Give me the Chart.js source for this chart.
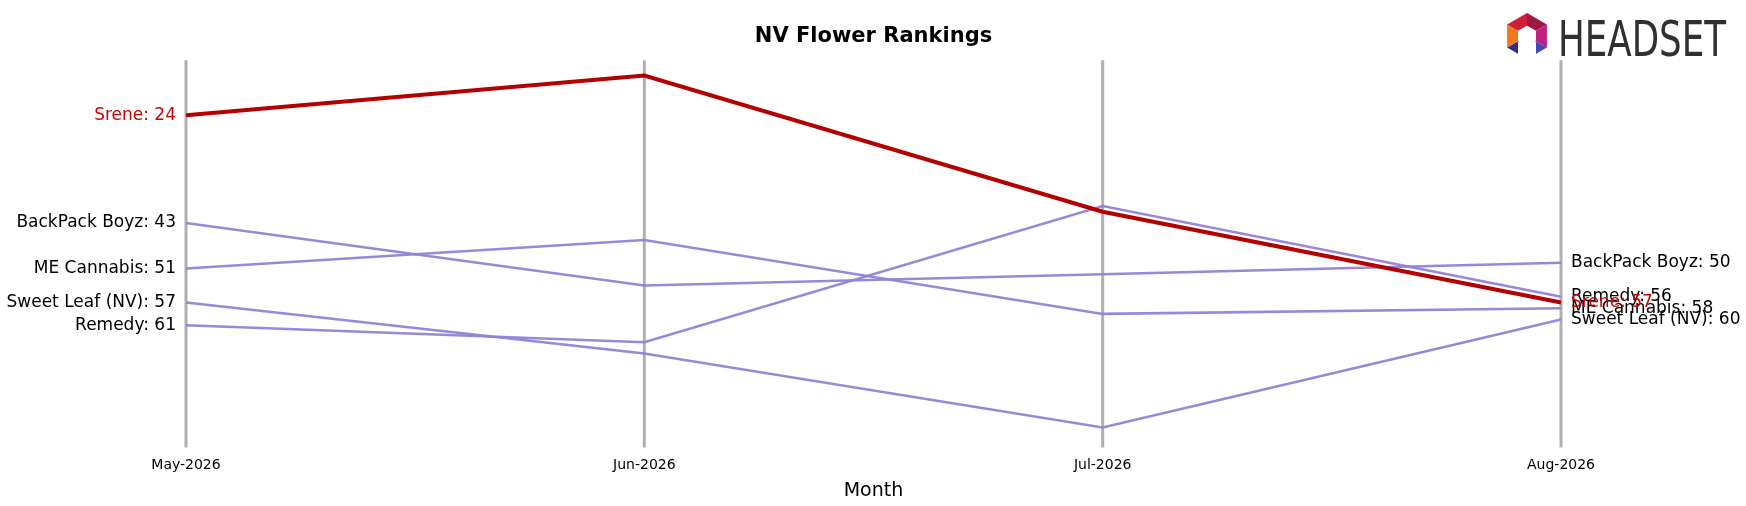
<!DOCTYPE html>
<html><head><meta charset="utf-8">
<script src="https://cdn.jsdelivr.net/npm/chart.js@4/dist/chart.umd.min.js"></script>
<style>html,body{margin:0;padding:0;background:#fff}#w{width:1746px;height:506px}</style>
</head><body><div id="w"><canvas id="c"></canvas></div>
<script>
const months = ["May-2026","Jun-2026","Jul-2026","Aug-2026"];
const srene = [24,17,41,57];
const backpack = [43,54,52,50];
const meCannabis = [51,46,59,58];
const sweetLeaf = [57,66,79,60];
const remedy = [61,64,40,56];
const names = ["Srene","BackPack Boyz","ME Cannabis","Sweet Leaf (NV)","Remedy"];
const series = [srene,backpack,meCannabis,sweetLeaf,remedy];

const PURPLE = "rgba(147,130,216,0.95)", RED = "#b30000";
const datasets = series.map((d,i)=>({
  label:names[i], data:d,
  borderColor: i===0?RED:PURPLE,
  borderWidth: i===0?4:2.5,
  pointRadius:0, tension:0, order: i===0?0:1
}));

const labelPlugin = {
  id:'lbl',
  beforeDatasetsDraw(chart){
    const {ctx, chartArea:a, scales:{x}} = chart;
    ctx.save();
    ctx.strokeStyle="#b0b0b0"; ctx.lineWidth=3;
    months.forEach((m,i)=>{const px=x.getPixelForValue(i);ctx.beginPath();ctx.moveTo(px,a.top);ctx.lineTo(px,a.bottom+3);ctx.stroke();});
    ctx.restore();
  },
  afterDatasetsDraw(chart){
    const {ctx, scales:{x,y}} = chart;
    ctx.save();
    ctx.font="17px 'DejaVu Sans'"; ctx.textBaseline="middle";
    const order=[1,2,3,4,0];
    order.forEach(i=>{
      const d=series[i];
      ctx.fillStyle = i===0?"#cc0000":"#000";
      ctx.textAlign="right";
      ctx.fillText(names[i]+": "+d[0], x.getPixelForValue(0)-10, y.getPixelForValue(d[0]));
      ctx.textAlign="left";
      ctx.fillText(names[i]+": "+d[3], x.getPixelForValue(3)+10, y.getPixelForValue(d[3]));
    });
    const cx=1527, cy=36;
    const pts=[];
    for(let k=0;k<6;k++){const ang=-Math.PI/2+k*Math.PI/3;pts.push([cx+23*Math.cos(ang),cy+23*Math.sin(ang)]);}
    const cols=["#a01840","#c02080","#4848b0","#303090","#f07a20","#d02038"];
    for(let k=0;k<6;k++){
      const p=pts[k],q=pts[(k+1)%6];
      ctx.fillStyle=cols[k];ctx.beginPath();ctx.moveTo(p[0],p[1]);ctx.lineTo(q[0],q[1]);
      ctx.lineTo(cx+(q[0]-cx)*0.45,cy+(q[1]-cy)*0.45);ctx.lineTo(cx+(p[0]-cx)*0.45,cy+(p[1]-cy)*0.45);ctx.closePath();ctx.fill();
    }
    ctx.fillStyle="#fff";ctx.fillRect(cx-9,cy+6,18,22);
    ctx.fillStyle="#303030";ctx.font="50px 'Liberation Sans Narrow','DejaVu Sans Condensed',sans-serif";
    ctx.textAlign="left";ctx.textBaseline="alphabetic";
    const w=ctx.measureText("HEADSET").width;
    ctx.translate(1558,56);ctx.scale(168/w,1.0);ctx.fillText("HEADSET",0,0);
    ctx.restore();
  }
};

new Chart(document.getElementById('c'),{
  type:'line',
  data:{labels:months,datasets},
  options:{
    responsive:true,maintainAspectRatio:false,animation:false,
    layout:{padding:{left:186,right:185,top:0,bottom:0}},
    plugins:{legend:{display:false},tooltip:{enabled:false},
      title:{display:true,text:"NV Flower Rankings",font:{family:"DejaVu Sans",size:21,weight:"bold"},color:"#000",padding:{top:24,bottom:11}}},
    scales:{
      x:{offset:false,grid:{display:false},border:{display:false},
        ticks:{color:"#000",font:{family:"DejaVu Sans",size:14},padding:5},
        title:{display:true,text:"Month",color:"#000",font:{family:"DejaVu Sans",size:19},padding:{top:0,bottom:4}}},
      y:{reverse:true,min:14.3,max:82,display:false}
    }
  },
  plugins:[labelPlugin]
});
</script></body></html>
